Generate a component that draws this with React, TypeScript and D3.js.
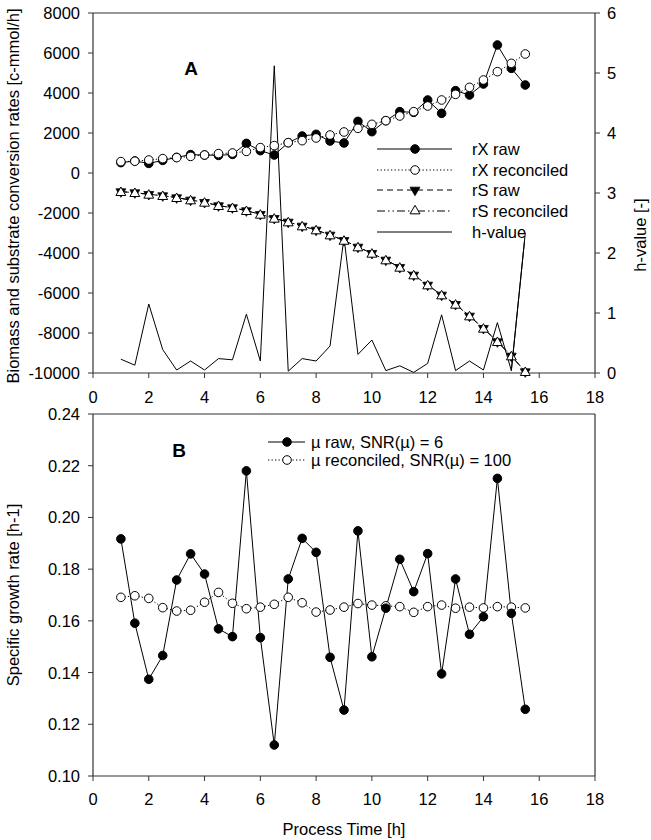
import React from "react";
import * as d3 from "d3";

const times = [1, 1.5, 2, 2.5, 3, 3.5, 4, 4.5, 5, 5.5, 6, 6.5, 7, 7.5, 8, 8.5, 9, 9.5, 10, 10.5, 11, 11.5, 12, 12.5, 13, 13.5, 14, 14.5, 15, 15.5];
const rXraw = [520, 600, 480, 630, 780, 920, 900, 880, 930, 1480, 1117, 900, 1517, 1850, 1933, 1600, 1500, 2580, 2067, 2617, 3067, 3033, 3650, 2983, 4117, 3900, 4450, 6400, 5233, 4400];
const rXrec = [570, 590, 650, 720, 770, 830, 900, 970, 1000, 1080, 1270, 1370, 1517, 1617, 1750, 1900, 2050, 2233, 2433, 2617, 2850, 3067, 3350, 3650, 3933, 4283, 4650, 5067, 5483, 5950];
const rSraw = [-933, -983, -1067, -1133, -1233, -1350, -1467, -1633, -1733, -1883, -2067, -2267, -2450, -2650, -2850, -3100, -3370, -3700, -4017, -4350, -4717, -5100, -5600, -6100, -6567, -7150, -7767, -8433, -9150, -9933];
const rSrec = [-933, -983, -1067, -1133, -1233, -1350, -1467, -1633, -1733, -1883, -2067, -2267, -2450, -2650, -2850, -3100, -3370, -3700, -4017, -4350, -4717, -5100, -5600, -6100, -6567, -7150, -7767, -8433, -9150, -9933];
const hValue = [0.23, 0.13, 1.15, 0.39, 0.05, 0.2, 0.05, 0.24, 0.22, 0.98, 0.2, 5.12, 0.03, 0.24, 0.2, 0.45, 2.26, 0.31, 0.55, 0.04, 0.12, 0.01, 0.16, 0.97, 0.04, 0.2, 0.05, 0.84, 0.04, 2.33];
const muRaw = [0.1917, 0.1591, 0.1374, 0.1466, 0.1758, 0.1859, 0.1781, 0.1569, 0.1539, 0.218, 0.1535, 0.112, 0.1762, 0.1919, 0.1865, 0.1459, 0.1255, 0.1948, 0.1461, 0.1649, 0.1838, 0.1713, 0.186, 0.1395, 0.1762, 0.1548, 0.1616, 0.2151, 0.1629, 0.1258];
const muRec = [0.1691, 0.1697, 0.1687, 0.1651, 0.1638, 0.1641, 0.1672, 0.171, 0.1668, 0.1647, 0.1653, 0.1664, 0.1691, 0.167, 0.1634, 0.1642, 0.1653, 0.1667, 0.1661, 0.1658, 0.1655, 0.1633, 0.1655, 0.1661, 0.1649, 0.1653, 0.165, 0.1655, 0.1653, 0.165];

const xTicks = [0, 2, 4, 6, 8, 10, 12, 14, 16, 18];
const yATicks = [-10000, -8000, -6000, -4000, -2000, 0, 2000, 4000, 6000, 8000];
const hTicks = [0, 1, 2, 3, 4, 5, 6];
const yBTicks = [0.1, 0.12, 0.14, 0.16, 0.18, 0.2, 0.22, 0.24];
const legendA = ["rX raw", "rX reconciled", "rS raw", "rS reconciled", "h-value"];
const legendB = ["\u00b5 raw, SNR(\u00b5) = 6", "\u00b5 reconciled, SNR(\u00b5) = 100"];

const FONT = "'Liberation Sans', Arial, sans-serif";
const FS = 16.5;
const AX = "#333";

const L = 93, R = 595;
const xA = d3.scaleLinear().domain([0, 18]).range([L, R]);
const yA = d3.scaleLinear().domain([-10000, 8000]).range([373, 13]);
const yH = d3.scaleLinear().domain([0, 6]).range([373, 13]);
const yB = d3.scaleLinear().domain([0.1, 0.24]).range([776, 414]);

const DOT = "1.3 2.2";
const DASH = "6 4";
const DASHDOT = "8 3 1.5 3 1.5 3";

const triUp = d3.symbol().type(d3.symbolTriangle).size(42)()!;

function lineFrom(ys: number[], y: d3.ScaleLinear<number, number>) {
  return d3.line<number>().x((_, i) => xA(times[i])).y((v) => y(v))(ys) || "";
}

function Circle({ x, y, filled }: { x: number; y: number; filled: boolean }) {
  return <circle cx={x} cy={y} r={4.3} fill={filled ? "#000" : "#fff"} stroke="#000" strokeWidth={1} />;
}
function TriDown({ x, y }: { x: number; y: number }) {
  return <path d={triUp} transform={`translate(${x},${y}) rotate(180)`} fill="#000" stroke="#000" strokeWidth={0.8} />;
}
function TriUp({ x, y }: { x: number; y: number }) {
  return <path d={triUp} transform={`translate(${x},${y + 1})`} fill="#fff" stroke="#000" strokeWidth={1} />;
}

export default function App() {
  const legendRowsA = [149, 170, 190, 211, 232];
  const lx1 = 377, lx2 = 452, lxm = 415, ltx = 472;
  return (
    <svg width={651} height={840} style={{ position: "absolute", left: 0, top: 0, background: "#fff" }} fontFamily={FONT}>
      <rect x={0} y={0} width={651} height={840} fill="#fff" />
      {/* ===== Panel A ===== */}
      <line x1={L} x2={R} y1={13} y2={13} stroke={AX} strokeWidth={1.2} />
      <line x1={L} x2={L} y1={13} y2={373} stroke={AX} strokeWidth={1.2} />
      <line x1={R} x2={R} y1={13} y2={373} stroke={AX} strokeWidth={1.2} />
      <line x1={L} x2={R} y1={373} y2={373} stroke={AX} strokeWidth={1.2} />
      {yATicks.map((t) => (
        <g key={"ya" + t}>
          <line x1={L - 5} x2={L} y1={yA(t)} y2={yA(t)} stroke={AX} />
          <text x={80} y={yA(t)} dy="0.36em" textAnchor="end" fontSize={FS}>{t}</text>
        </g>
      ))}
      {hTicks.map((t) => (
        <g key={"yh" + t}>
          <line x1={R} x2={R + 5} y1={yH(t)} y2={yH(t)} stroke={AX} />
          <text x={607} y={yH(t)} dy="0.36em" textAnchor="start" fontSize={FS}>{t}</text>
        </g>
      ))}
      {xTicks.map((t) => (
        <g key={"xa" + t}>
          <line x1={xA(t)} x2={xA(t)} y1={373} y2={378} stroke={AX} />
          <text x={xA(t)} y={403} textAnchor="middle" fontSize={FS}>{t}</text>
        </g>
      ))}
      <text transform={`translate(19,196) rotate(-90)`} textAnchor="middle" fontSize={FS}>Biomass and substrate conversion rates [c-mmol/h]</text>
      <text transform={`translate(651,235) rotate(-90)`} textAnchor="middle" fontSize={FS} dy="-0.3em">h-value [-]</text>
      <text x={191} y={75} textAnchor="middle" fontSize={19} fontWeight="bold">A</text>

      {/* h-value */}
      <path d={lineFrom(hValue, yH)} fill="none" stroke="#000" strokeWidth={1} />
      {/* rS */}
      <path d={lineFrom(rSraw, yA)} fill="none" stroke="#000" strokeWidth={1} strokeDasharray={DASH} />
      <path d={lineFrom(rSrec, yA)} fill="none" stroke="#000" strokeWidth={1} strokeDasharray={DASHDOT} />
      {rSraw.map((v, i) => <TriDown key={"sr" + i} x={xA(times[i])} y={yA(v)} />)}
      {rSrec.map((v, i) => <TriUp key={"sc" + i} x={xA(times[i])} y={yA(v)} />)}
      {/* rX */}
      <path d={lineFrom(rXraw, yA)} fill="none" stroke="#000" strokeWidth={1} />
      <path d={lineFrom(rXrec, yA)} fill="none" stroke="#000" strokeWidth={1} strokeDasharray={DOT} />
      {rXraw.map((v, i) => <Circle key={"xr" + i} x={xA(times[i])} y={yA(v)} filled={true} />)}
      {rXrec.map((v, i) => <Circle key={"xc" + i} x={xA(times[i])} y={yA(v)} filled={false} />)}

      {/* legend A */}
      <rect x={lx1 - 2} y={138} width={200} height={104} fill="#fff" />
      {legendA.map((s, i) => {
        const y = legendRowsA[i];
        const dash = i === 1 ? DOT : i === 2 ? DASH : i === 3 ? DASHDOT : undefined;
        return (
          <g key={"la" + i}>
            <line x1={lx1} x2={lx2} y1={y} y2={y} stroke="#000" strokeWidth={1} strokeDasharray={dash} />
            {i === 0 && <Circle x={lxm} y={y} filled={true} />}
            {i === 1 && <Circle x={lxm} y={y} filled={false} />}
            {i === 2 && <TriDown x={lxm} y={y} />}
            {i === 3 && <TriUp x={lxm} y={y - 1} />}
            <text x={ltx} y={y} dy="0.36em" fontSize={FS}>{s}</text>
          </g>
        );
      })}
      {/* h-value line passes over legend at the end */}
      <path d={d3.line<number>().x((_, i) => xA(times[i + 28])).y((v) => yH(v))(hValue.slice(28)) || ""} fill="none" stroke="#000" strokeWidth={1} />

      {/* ===== Panel B ===== */}
      <line x1={L} x2={R} y1={414} y2={414} stroke={AX} strokeWidth={1.2} />
      <line x1={L} x2={L} y1={414} y2={776} stroke={AX} strokeWidth={1.2} />
      <line x1={R} x2={R} y1={414} y2={776} stroke={AX} strokeWidth={1.2} />
      <line x1={L} x2={R} y1={776} y2={776} stroke={AX} strokeWidth={1.2} />
      {yBTicks.map((t) => (
        <g key={"yb" + t}>
          <line x1={L - 5} x2={L} y1={yB(t)} y2={yB(t)} stroke={AX} />
          <text x={80} y={yB(t)} dy="0.36em" textAnchor="end" fontSize={FS}>{d3.format(".2f")(t)}</text>
        </g>
      ))}
      {xTicks.map((t) => (
        <g key={"xb" + t}>
          <line x1={xA(t)} x2={xA(t)} y1={776} y2={781} stroke={AX} />
          <text x={xA(t)} y={805} textAnchor="middle" fontSize={FS}>{t}</text>
        </g>
      ))}
      <text transform={`translate(19,595) rotate(-90)`} textAnchor="middle" fontSize={FS}>Specific growth rate [h-1]</text>
      <text x={344} y={835} textAnchor="middle" fontSize={FS}>Process Time [h]</text>
      <text x={179} y={457} textAnchor="middle" fontSize={19} fontWeight="bold">B</text>

      <path d={lineFrom(muRec, yB)} fill="none" stroke="#000" strokeWidth={1} strokeDasharray={DOT} />
      <path d={lineFrom(muRaw, yB)} fill="none" stroke="#000" strokeWidth={1} />
      {muRec.map((v, i) => <Circle key={"mc" + i} x={xA(times[i])} y={yB(v)} filled={false} />)}
      {muRaw.map((v, i) => <Circle key={"mr" + i} x={xA(times[i])} y={yB(v)} filled={true} />)}

      {/* legend B */}
      {legendB.map((s, i) => {
        const y = i === 0 ? 442 : 460;
        return (
          <g key={"lb" + i}>
            <line x1={268} x2={305} y1={y} y2={y} stroke="#000" strokeWidth={1} strokeDasharray={i === 1 ? DOT : undefined} />
            <Circle x={287} y={y} filled={i === 0} />
            <text x={311} y={y} dy="0.36em" fontSize={FS}>{s}</text>
          </g>
        );
      })}
    </svg>
  );
}
